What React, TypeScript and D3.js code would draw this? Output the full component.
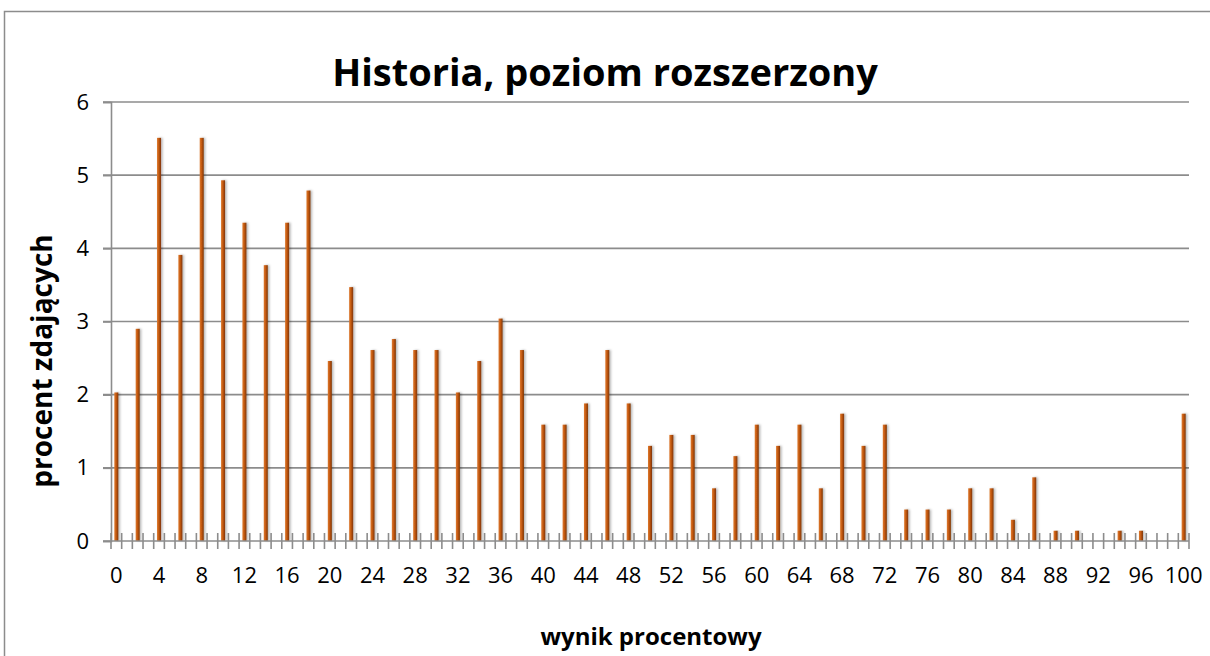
import React, { useRef, useEffect } from 'react';
import * as d3 from 'd3';

// wynik procentowy 0..100, tylko parzyste mają słupki
const scores: number[] = d3.range(0, 101);
const barScores: number[] = d3.range(0, 101, 2);
const barValues: number[] = [
  2.03, 2.90, 5.51, 3.91, 5.51, 4.93, 4.35, 3.77, 4.35, 4.79,
  2.46, 3.47, 2.61, 2.76, 2.61, 2.61, 2.03, 2.46, 3.04, 2.61,
  1.59, 1.59, 1.88, 2.61, 1.88, 1.30, 1.45, 1.45, 0.72, 1.16,
  1.59, 1.30, 1.59, 0.72, 1.74, 1.30, 1.59, 0.43, 0.43, 0.43,
  0.72, 0.72, 0.29, 0.87, 0.14, 0.14, 0, 0.14, 0.14, 0, 1.74,
];
const yTicks: number[] = [0, 1, 2, 3, 4, 5, 6];
const xLabelScores: number[] = d3.range(0, 101, 4);

const W = 1210;
const H = 656;
const left = 111;
const right = 1189;
const top = 102;
const bottom = 541;

const App: React.FC = () => {
  const svgRef = useRef<SVGSVGElement | null>(null);

  useEffect(() => {
    const svg = d3.select(svgRef.current);
    svg.selectAll('*').remove();

    const defs = svg.append('defs');
    const grad = defs.append('linearGradient').attr('id', 'barGrad')
      .attr('x1', '0').attr('x2', '1').attr('y1', '0').attr('y2', '0');
    grad.append('stop').attr('offset', '0%').attr('stop-color', '#dd7a30');
    grad.append('stop').attr('offset', '45%').attr('stop-color', '#c55a11');
    grad.append('stop').attr('offset', '100%').attr('stop-color', '#7d3404');
    defs.append('filter').attr('id', 'shadow')
      .attr('x', '-100%').attr('y', '-5%').attr('width', '300%').attr('height', '110%')
      .append('feDropShadow')
      .attr('dx', 1.5).attr('dy', 0).attr('stdDeviation', 1.2)
      .attr('flood-color', '#000').attr('flood-opacity', 0.3);

    // ramka wykresu
    svg.append('rect')
      .attr('x', 4.5).attr('y', 11.5)
      .attr('width', W + 20).attr('height', H + 20)
      .attr('fill', '#fff').attr('stroke', '#8c8c8c').attr('stroke-width', 1.5);

    const x = d3.scaleBand<string>()
      .domain(scores.map(String))
      .range([left, right])
      .padding(0);
    const xEdge = d3.scaleLinear().domain([0, scores.length]).range([left, right]);
    const y = d3.scaleLinear().domain([0, 6]).range([bottom, top]);

    const grey = '#8c8c8c';

    // linie siatki
    svg.append('g')
      .selectAll('line')
      .data(yTicks.filter(t => t > 0))
      .enter()
      .append('line')
      .attr('x1', left - 8).attr('x2', right)
      .attr('y1', d => y(d)).attr('y2', d => y(d))
      .attr('stroke', grey).attr('stroke-width', 1.6);

    // oś Y
    const yAxis = d3.axisLeft(y).tickValues(yTicks).tickSize(8).tickPadding(14)
      .tickFormat(d3.format('d'));
    const gy = svg.append('g')
      .attr('transform', `translate(${left},0)`)
      .call(yAxis);
    gy.select('.domain').attr('stroke', grey).attr('stroke-width', 1.6);
    gy.selectAll('.tick line').attr('stroke', grey).attr('stroke-width', 1.6);
    gy.selectAll('.tick text')
      .style('font-family', '"Open Sans", sans-serif')
      .style('font-size', '22px')
      .attr('fill', '#000');

    // słupki
    const bw = 4;
    svg.append('g')
      .selectAll('rect')
      .data(barValues)
      .enter()
      .append('rect')
      .attr('x', (d, i) => (x(String(barScores[i])) ?? 0) + x.bandwidth() / 2 - bw / 2)
      .attr('y', d => y(d))
      .attr('width', bw)
      .attr('height', d => bottom - y(d))
      .attr('fill', 'url(#barGrad)')
      .attr('filter', 'url(#shadow)');

    // oś X - linia i znaczniki krzyżujące oś
    svg.append('line')
      .attr('x1', left - 8).attr('x2', right)
      .attr('y1', bottom).attr('y2', bottom)
      .attr('stroke', grey).attr('stroke-width', 1.6);
    svg.append('g')
      .selectAll('line')
      .data(d3.range(0, scores.length + 1))
      .enter()
      .append('line')
      .attr('x1', d => xEdge(d)).attr('x2', d => xEdge(d))
      .attr('y1', bottom - 8).attr('y2', bottom + 8)
      .attr('stroke', grey).attr('stroke-width', 1.6);

    const xAxis = d3.axisBottom(x)
      .tickValues(xLabelScores.map(String))
      .tickSize(0)
      .tickPadding(26);
    const gx = svg.append('g')
      .attr('transform', `translate(0,${bottom})`)
      .call(xAxis);
    gx.select('.domain').remove();
    gx.selectAll('.tick text')
      .style('font-family', '"Open Sans", sans-serif')
      .style('font-size', '22px')
      .attr('fill', '#000');

    // tytuły
    svg.append('text')
      .attr('x', 605).attr('y', 86)
      .attr('text-anchor', 'middle')
      .style('font-family', '"Open Sans", sans-serif')
      .style('font-size', '38px')
      .style('font-weight', 'bold')
      .text('Historia, poziom rozszerzony');

    svg.append('text')
      .attr('x', 651).attr('y', 645)
      .attr('text-anchor', 'middle')
      .style('font-family', '"Open Sans", sans-serif')
      .style('font-size', '24px')
      .style('font-weight', 'bold')
      .text('wynik procentowy');

    svg.append('text')
      .attr('transform', 'translate(52,361) rotate(-90)')
      .attr('text-anchor', 'middle')
      .style('font-family', '"Open Sans", sans-serif')
      .style('font-size', '28px')
      .style('font-weight', 'bold')
      .text('procent zdających');
  }, []);

  return (
    <svg
      ref={svgRef}
      width={W}
      height={H}
      style={{ position: 'absolute', left: 0, top: 0, background: '#fff' }}
    ></svg>
  );
};

export default App;
